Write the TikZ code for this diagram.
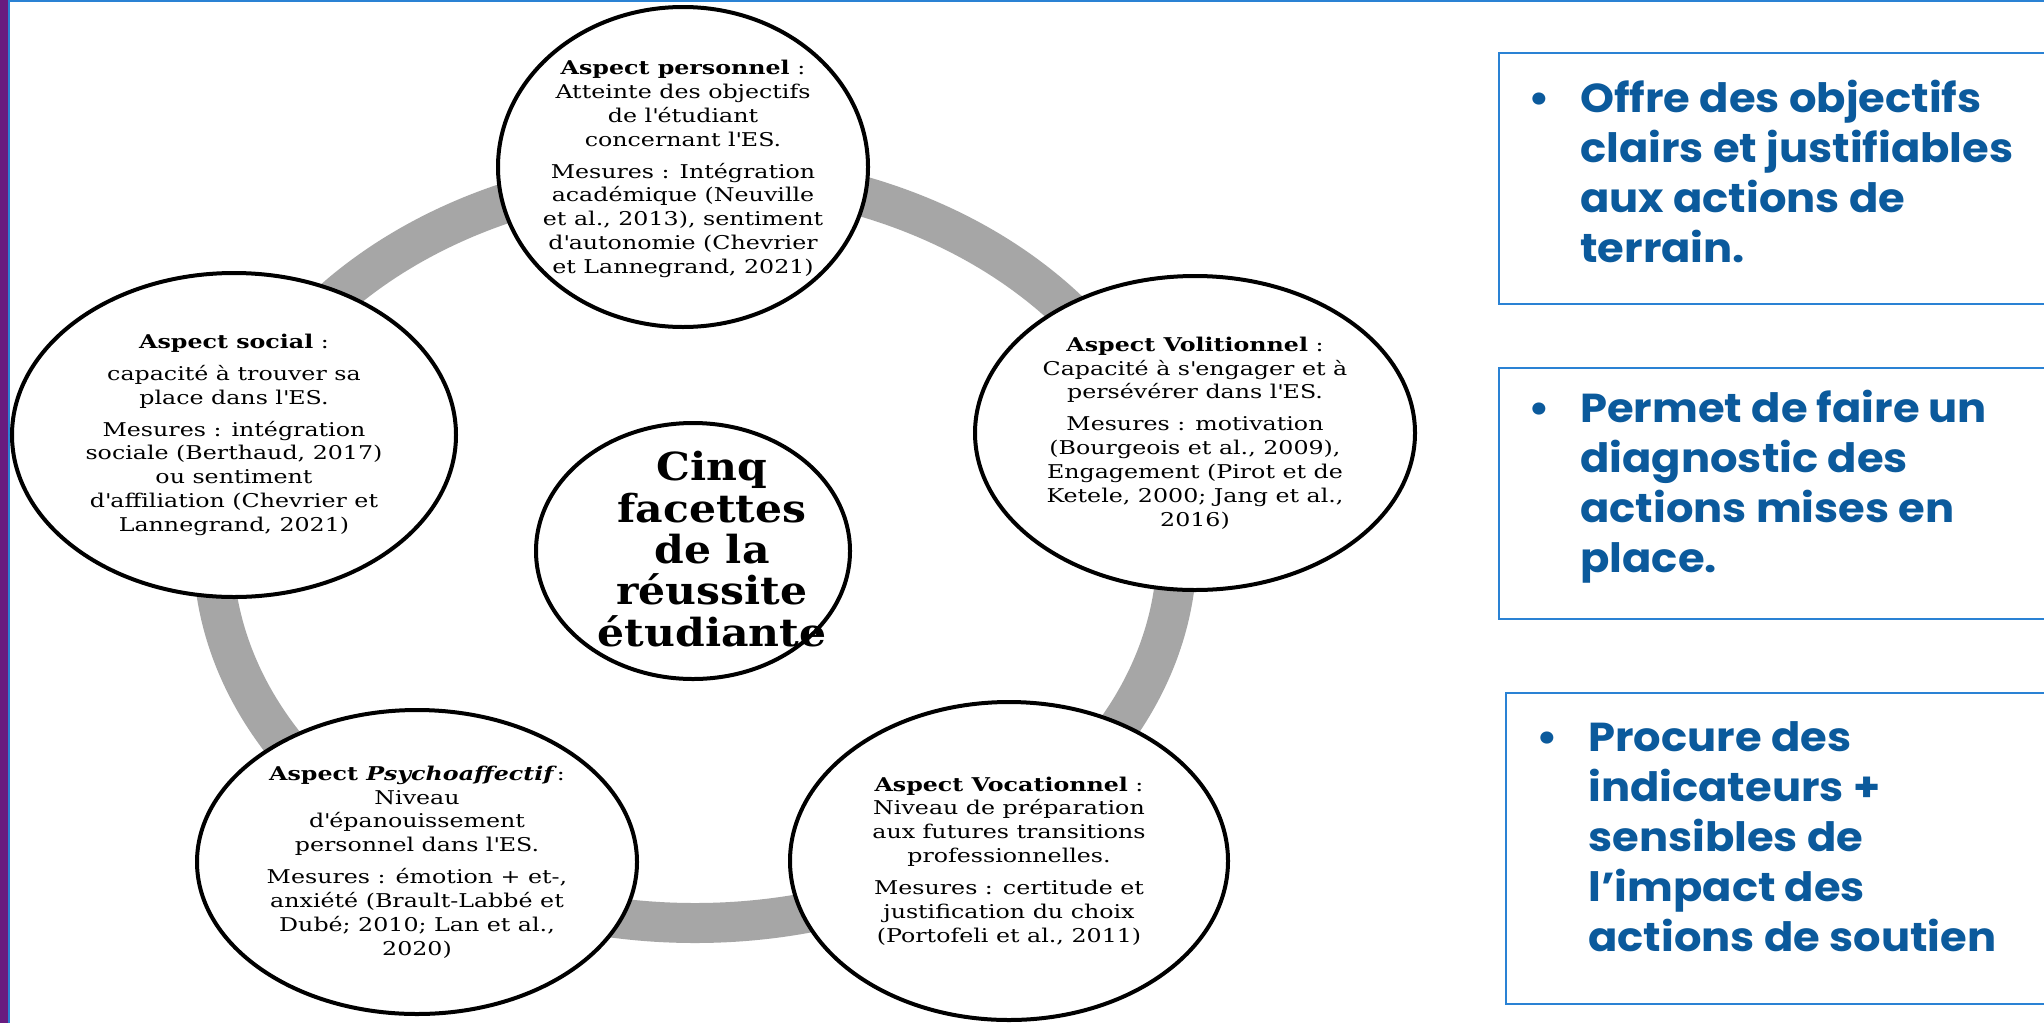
\documentclass[tikz,border=0pt]{standalone}
\usepackage{fontspec}
\setmainfont{DejaVu Serif}[FakeStretch=1.25]
\newfontfamily\titlefont{DejaVu Serif}[FakeStretch=1.1]
\newfontfamily\boxfont{Poppins}[FakeStretch=1.07]
\definecolor{ringgray}{HTML}{A6A6A6}
\definecolor{boxblue}{HTML}{0B5A9C}
\definecolor{edgeblue}{HTML}{2A82D4}
\definecolor{barpurple}{HTML}{681C80}
\newcommand{\ap}{\textquotesingle}

\begin{document}
\begin{tikzpicture}[x=0.2mm, y=-0.2mm,
        facet/.style={draw=black, line width=0.8mm, fill=white},
        facettext/.style={align=center, inner sep=0pt, font=\fontsize{10.8}{13.6}\selectfont},
        sidebox/.style={draw=edgeblue, line width=0.4mm},
        sidetext/.style={align=left, anchor=north west, inner sep=0pt, text=boxblue,
            font=\boxfont\bfseries\fontsize{23}{28.5}\selectfont}]
        \useasboundingbox (0,0) rectangle (2044,1023);
        %frame
        \fill[white] (0,0) rectangle (2044,1023);
        \fill[barpurple] (0,0) rectangle (8,1023);
        \draw[edgeblue, line width=0.5mm] (9,1023) -- (9,1) -- (2044,1);
        %ring
        \draw[ringgray, line width=8mm] (695,548) ellipse [x radius=482, y radius=375];
        %facets
        \coordinate (cpers) at (683,167);
        \coordinate (csoc) at (234,435);
        \coordinate (cvol) at (1195,433);
        \coordinate (cpsy) at (417,862);
        \coordinate (cvoc) at (1009,861);
        \coordinate (ccinq) at (693,551);
        \draw[facet] (cpers) ellipse [x radius=185, y radius=160];
        \draw[facet] (csoc) ellipse [x radius=222, y radius=162];
        \draw[facet] (cvol) ellipse [x radius=220, y radius=157];
        \draw[facet] (cpsy) ellipse [x radius=220, y radius=152];
        \draw[facet] (cvoc) ellipse [x radius=219, y radius=159];
        \draw[facet] (ccinq) ellipse [x radius=157, y radius=128];
        \node[facettext] (pers) at (683,169) {\textbf{Aspect personnel} :\\ Atteinte des objectifs\\ de l\ap étudiant\\ concernant l\ap ES.\\[4.5pt]
            Mesures : Intégration\\ académique (Neuville\\ et al., 2013), sentiment\\ d\ap autonomie (Chevrier\\ et Lannegrand, 2021)};
        \node[facettext] (soc) at (csoc) {\textbf{Aspect social} :\\[4.5pt] capacité à trouver sa\\ place dans l\ap ES.\\[4.5pt]
            Mesures : intégration\\ sociale (Berthaud, 2017)\\ ou sentiment\\ d\ap affiliation (Chevrier et\\ Lannegrand, 2021)};
        \node[facettext] (vol) at (cvol) {\textbf{Aspect Volitionnel} :\\ Capacité à s\ap engager et à\\ persévérer dans l\ap ES.\\[4.5pt]
            Mesures : motivation\\ (Bourgeois et al., 2009),\\ Engagement (Pirot et de\\ Ketele, 2000; Jang et al.,\\ 2016)};
        \node[facettext] (psy) at (cpsy) {\textbf{Aspect \textit{Psychoaffectif}}:\\ Niveau\\ d\ap épanouissement\\ personnel dans l\ap ES.\\[4.5pt]
            Mesures : émotion + et-,\\ anxiété (Brault-Labbé et\\ Dubé; 2010; Lan et al.,\\ 2020)};
        \node[facettext] (voc) at (cvoc) {\textbf{Aspect Vocationnel} :\\ Niveau de préparation\\ aux futures transitions\\ professionnelles.\\[4.5pt]
            Mesures : certitude et\\ justification du choix\\ (Portofeli et al., 2011)};
        \node[align=center, inner sep=0pt, font=\titlefont\bfseries\fontsize{22}{23.5}\selectfont] (cinq) at (712,549) {Cinq\\ facettes\\ de la\\ réussite\\ étudiante};
        %boxes
        \draw[sidebox] (1499,53) rectangle (2060,304);
        \draw[sidebox] (1499,368) rectangle (2060,619);
        \draw[sidebox] (1506,693) rectangle (2060,1004);
        \node[sidetext] (offre) at (1580,80) {\llap{\textbullet\hspace{6mm}}Offre des objectifs\\ clairs et justifiables\\ aux actions de\\ terrain.};
        \node[sidetext] (permet) at (1580,390) {\llap{\textbullet\hspace{6mm}}Permet de faire un\\ diagnostic des\\ actions mises en\\ place.};
        \node[sidetext] (procure) at (1588,721) {\llap{\textbullet\hspace{6mm}}Procure des\\ indicateurs +\\ sensibles de\\ l’impact des\\ actions de soutien};
\end{tikzpicture}
\end{document}
